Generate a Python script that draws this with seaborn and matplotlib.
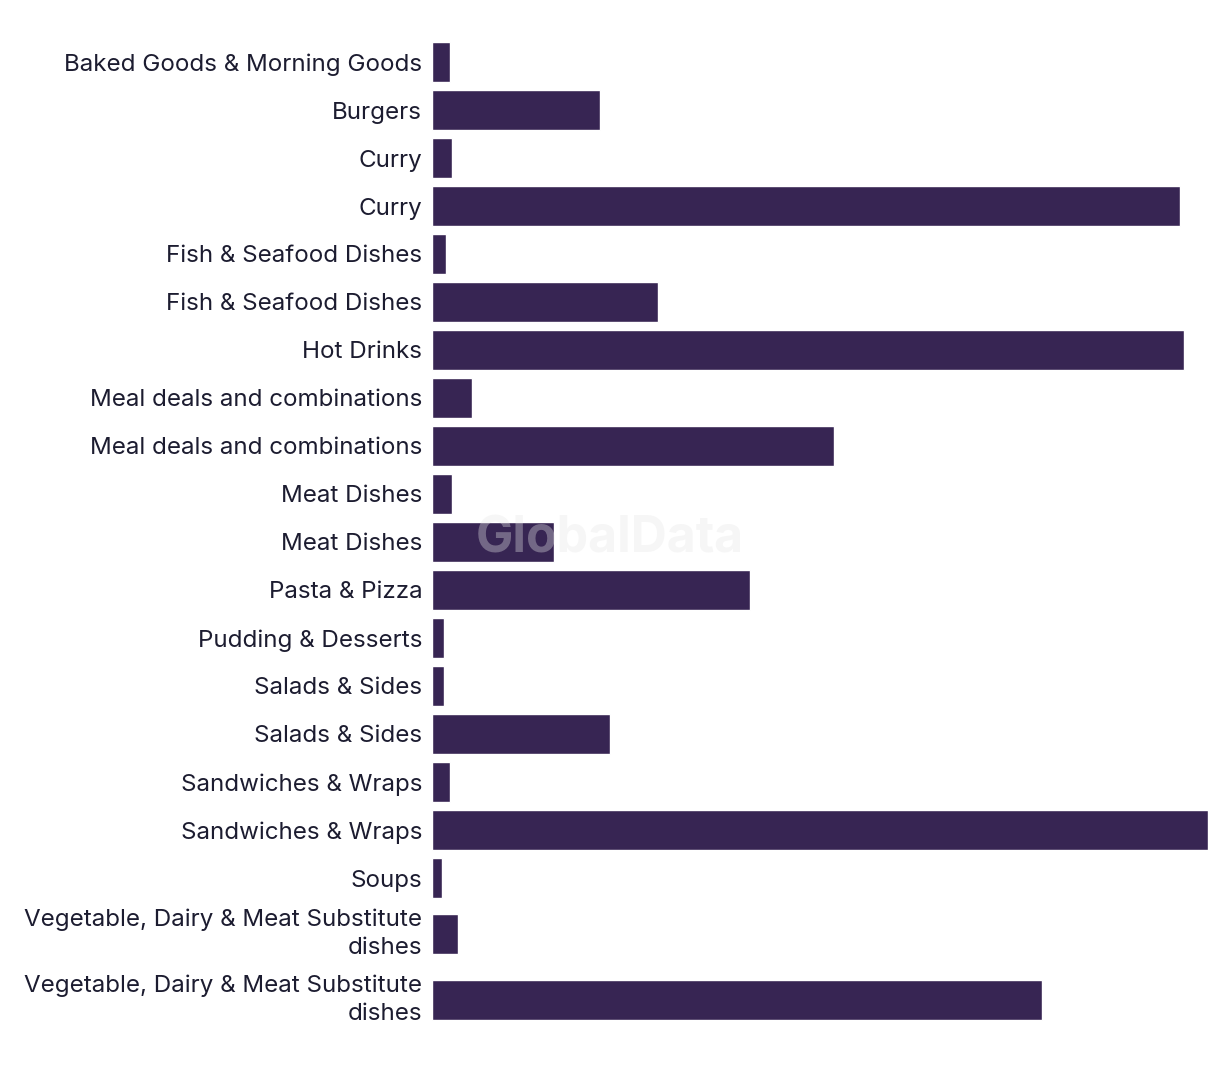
import matplotlib
matplotlib.use("Agg")
import matplotlib.pyplot as plt
import seaborn as sns
import pandas as pd

categories = [
    "Baked Goods & Morning Goods", "Burgers", "Curry", "Curry",
    "Fish & Seafood Dishes", "Fish & Seafood Dishes", "Hot Drinks",
    "Meal deals and combinations", "Meal deals and combinations",
    "Meat Dishes", "Meat Dishes", "Pasta & Pizza", "Pudding & Desserts",
    "Salads & Sides", "Salads & Sides", "Sandwiches & Wraps",
    "Sandwiches & Wraps", "Soups",
    "Vegetable, Dairy & Meat Substitute\ndishes",
    "Vegetable, Dairy & Meat Substitute\ndishes",
]
values = [18, 168, 20, 748, 14, 226, 752, 40, 402, 20, 122, 318, 12, 12,
          178, 18, 776, 10, 26, 610]

# row layout (rows with two-line labels take more room)
row_gaps = [1.0] * 17 + [56 / 48, 66 / 48]
positions = [0.0]
for g in row_gaps:
    positions.append(positions[-1] + g)

df = pd.DataFrame({"label": categories, "value": values, "pos": positions})

sns.set_theme(style="white")
plt.rcParams["font.family"] = ["Inter", "DejaVu Sans"]

fig = plt.figure(figsize=(12.2, 10.72), dpi=100)
ax = fig.add_axes([432 / 1220, 1 - 1040 / 1072, 776 / 1220, 1010 / 1072])

sns.barplot(data=df, x="value", y="pos", orient="y", native_scale=True,
            color="#372553", saturation=1, width=40 / 48, ax=ax)

ax.set_xlim(0, max(values))
ax.set_ylim((1040 - 62) / 48, (30 - 62) / 48)
ax.set_yticks(positions)
ax.set_yticklabels(categories, fontsize=17.4, color="#1c1c30", linespacing=1.36)
ax.tick_params(axis="y", length=0, pad=7)
for lbl in ax.get_yticklabels():
    if "\n" in lbl.get_text():
        lbl.set_verticalalignment("center")
ax.set_xticks([])
ax.set_xlabel("")
ax.set_ylabel("")
for s in ax.spines.values():
    s.set_visible(False)

fig.text(610 / 1220, 1 - 539 / 1072, "GlobalData", ha="center", va="center",
         fontsize=36, fontweight="bold", color="#e6e6e6", alpha=0.35,
         family=["Inter", "DejaVu Sans"], zorder=10)

fig.savefig("out.png", dpi=100, facecolor="white")
